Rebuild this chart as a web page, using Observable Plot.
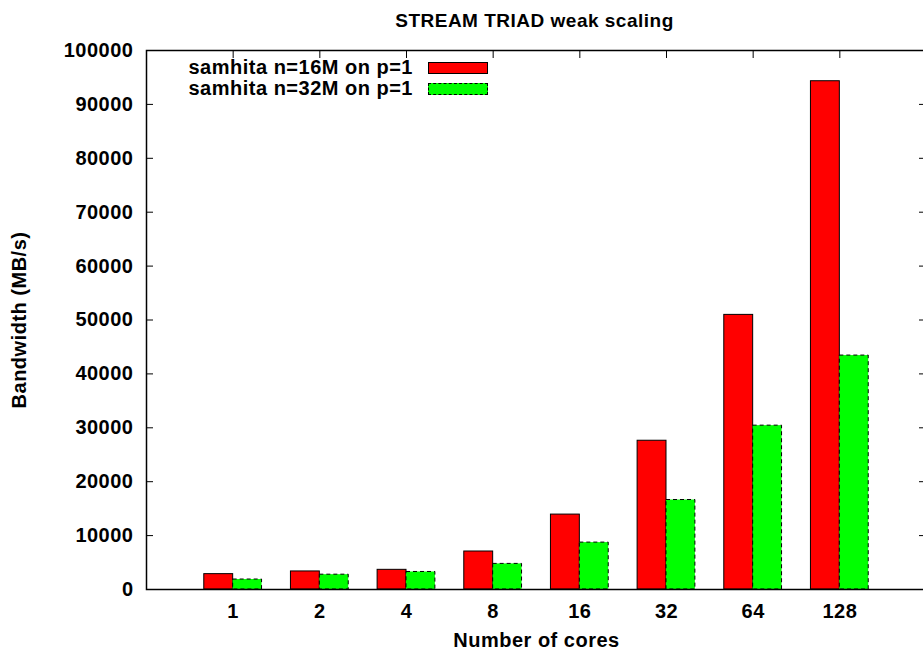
<!DOCTYPE html>
<html><head><meta charset="utf-8">
<script src="https://cdn.jsdelivr.net/npm/d3@7"></script>
<script src="https://cdn.jsdelivr.net/npm/@observablehq/plot@0.6"></script>
<style>
html,body{margin:0;padding:0;background:#fff;overflow:hidden;}
#wrap{position:relative;width:923px;height:656px;font-family:"Liberation Sans",Arial,sans-serif;font-weight:bold;color:#000;}
#title{position:absolute;left:146px;width:777px;top:11px;text-align:center;font-size:19px;line-height:20px;letter-spacing:0.5px;}
#legend{position:absolute;left:150px;top:57px;font-size:20px;line-height:21px;letter-spacing:0.5px;}
.row{display:flex;align-items:center;justify-content:flex-end;width:338px;height:21px;}
.sw{display:inline-block;width:58px;height:10px;margin-left:15px;border:1px solid #000;box-sizing:content-box;}
</style>
</head><body>
<div id="wrap">
  <div id="chart"></div>
  <div id="title"></div>
  <div id="legend"></div>
</div>
<script>
const titleText = "STREAM TRIAD weak scaling";
const cores = ["1", "2", "4", "8", "16", "32", "64", "128"];
const seriesNames = ["samhita n=16M on p=1", "samhita n=32M on p=1"];
const seriesColors = ["#ff0000", "#00ff00"];
const n16 = [2850, 3350, 3650, 7050, 13900, 27600, 50950, 94300];
const n32 = [1850, 2750, 3250, 4750, 8700, 16600, 30400, 43400];
const yTicks = [0, 10000, 20000, 30000, 40000, 50000, 60000, 70000, 80000, 90000, 100000];
const yLabel = "Bandwidth (MB/s)";
const xLabel = "Number of cores";

const rows = cores.map((c, i) => ({pos: i + 1, core: c, v16: n16[i], v32: n32[i]}));
const xTicks = rows.map(d => d.pos);

const chart = Plot.plot({
  width: 923,
  height: 656,
  marginLeft: 146,
  marginRight: -3,
  marginTop: 50,
  marginBottom: 67,
  x: {domain: [0, 9]},
  y: {domain: [0, 100000]},
  style: {fontFamily: "'Liberation Sans', Arial, sans-serif", fontSize: "20px", fontWeight: "bold", letterSpacing: "0.5px", color: "#000", background: "#fff"},
  marks: [
    Plot.rectY(rows, {x1: d => d.pos - 1/3, x2: d => d.pos, y: "v16", fill: seriesColors[0], stroke: "#000", strokeWidth: 1}),
    Plot.rectY(rows, {x1: d => d.pos, x2: d => d.pos + 1/3, y: "v32", fill: seriesColors[1], stroke: "#000", strokeWidth: 1, strokeDasharray: "4,3"}),
    Plot.axisY({ticks: yTicks, tickFormat: d => String(d), tickSize: 0, tickPadding: 13, label: yLabel, labelAnchor: "center", labelOffset: 135, labelArrow: "none"}),
    Plot.axisY({anchor: "left", ticks: yTicks, tickSize: -7, fill: "none", label: null}),
    Plot.axisY({anchor: "right", ticks: yTicks, tickSize: -8, fill: "none", label: null}),
    Plot.axisX({ticks: xTicks, tickFormat: p => cores[p - 1], tickSize: 0, tickPadding: 14, label: xLabel, labelAnchor: "center", labelOffset: 57, labelArrow: "none"}),
    Plot.axisX({anchor: "top", ticks: xTicks, tickSize: -7, fill: "none", label: null}),
    Plot.frame({stroke: "#000", strokeWidth: 1.5})
  ]
});
document.getElementById("chart").appendChild(chart);
document.getElementById("title").textContent = titleText;
const legend = document.getElementById("legend");
seriesNames.forEach((name, i) => {
  const row = document.createElement("div");
  row.className = "row";
  const t = document.createElement("span");
  t.textContent = name;
  const sw = document.createElement("span");
  sw.className = "sw";
  sw.style.background = seriesColors[i];
  if (i === 1) sw.style.borderStyle = "dashed";
  row.appendChild(t);
  row.appendChild(sw);
  legend.appendChild(row);
});
</script>
</body></html>
